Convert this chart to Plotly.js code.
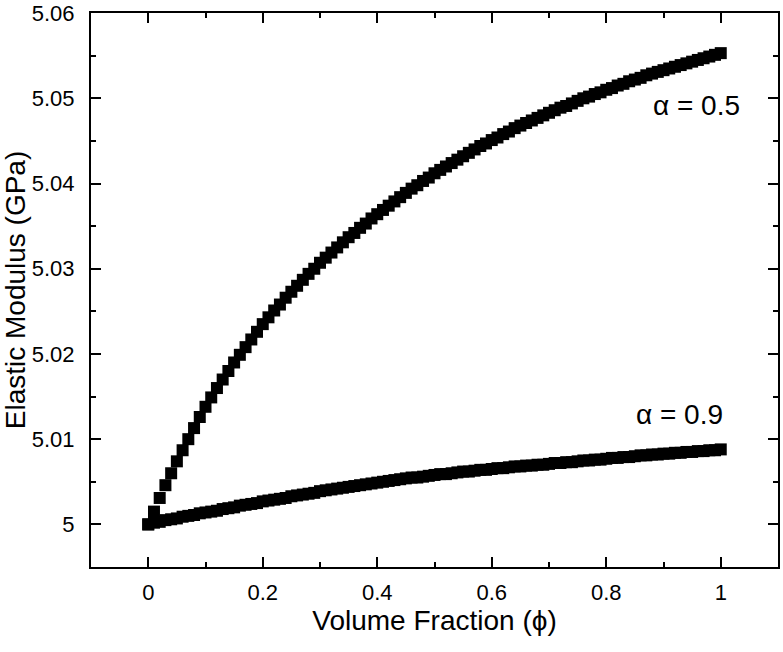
<!DOCTYPE html>
<html>
<head>
<meta charset="utf-8">
<script src="https://cdn.plot.ly/plotly-3.0.1.min.js"></script>
<style>html,body{margin:0;padding:0;background:#fff;}#chart{width:783px;height:652px;}</style>
</head>
<body>
<div id="chart"></div>
<script>
// Volume fraction (phi), 0 to 1 in steps of 0.01
var phi = [0.00,0.01,0.02,0.03,0.04,0.05,0.06,0.07,0.08,0.09,
  0.10,0.11,0.12,0.13,0.14,0.15,0.16,0.17,0.18,0.19,
  0.20,0.21,0.22,0.23,0.24,0.25,0.26,0.27,0.28,0.29,
  0.30,0.31,0.32,0.33,0.34,0.35,0.36,0.37,0.38,0.39,
  0.40,0.41,0.42,0.43,0.44,0.45,0.46,0.47,0.48,0.49,
  0.50,0.51,0.52,0.53,0.54,0.55,0.56,0.57,0.58,0.59,
  0.60,0.61,0.62,0.63,0.64,0.65,0.66,0.67,0.68,0.69,
  0.70,0.71,0.72,0.73,0.74,0.75,0.76,0.77,0.78,0.79,
  0.80,0.81,0.82,0.83,0.84,0.85,0.86,0.87,0.88,0.89,
  0.90,0.91,0.92,0.93,0.94,0.95,0.96,0.97,0.98,0.99,1.00];

// Elastic modulus (GPa), alpha = 0.5
var modulusA05 = [5.0000,5.0015,5.0031,5.0046,5.0060,5.0074,5.0087,5.0100,5.0113,5.0126,
  5.0138,5.0149,5.0160,5.0170,5.0180,5.0190,5.0199,5.0208,5.0217,5.0226,
  5.0235,5.0243,5.0251,5.0258,5.0266,5.0273,5.0280,5.0287,5.0294,5.0300,
  5.0307,5.0313,5.0319,5.0325,5.0331,5.0337,5.0342,5.0348,5.0353,5.0359,
  5.0364,5.0369,5.0374,5.0379,5.0384,5.0389,5.0394,5.0398,5.0403,5.0407,
  5.0412,5.0416,5.0420,5.0424,5.0428,5.0432,5.0436,5.0440,5.0444,5.0447,
  5.0451,5.0454,5.0458,5.0461,5.0465,5.0468,5.0471,5.0474,5.0477,5.0480,
  5.0483,5.0486,5.0489,5.0491,5.0494,5.0497,5.0500,5.0502,5.0505,5.0507,
  5.0510,5.0512,5.0515,5.0517,5.0520,5.0522,5.0524,5.0527,5.0529,5.0531,
  5.0533,5.0535,5.0537,5.0539,5.0541,5.0543,5.0545,5.0547,5.0549,5.0551,5.0553];

// Elastic modulus (GPa), alpha = 0.9
var modulusA09 = [5.0000,5.0002,5.0003,5.0005,5.0006,5.0007,5.0009,5.0010,5.0011,5.0013,
  5.0014,5.0015,5.0016,5.0018,5.0019,5.0020,5.0022,5.0023,5.0024,5.0025,
  5.0027,5.0028,5.0029,5.0030,5.0031,5.0033,5.0034,5.0035,5.0036,5.0037,
  5.0039,5.0040,5.0041,5.0042,5.0043,5.0044,5.0045,5.0046,5.0047,5.0048,
  5.0049,5.0050,5.0051,5.0052,5.0053,5.0054,5.0055,5.0055,5.0056,5.0057,
  5.0058,5.0059,5.0059,5.0060,5.0061,5.0062,5.0062,5.0063,5.0064,5.0064,
  5.0065,5.0066,5.0066,5.0067,5.0068,5.0068,5.0069,5.0069,5.0070,5.0070,
  5.0071,5.0072,5.0072,5.0073,5.0073,5.0074,5.0075,5.0075,5.0076,5.0076,
  5.0077,5.0078,5.0078,5.0079,5.0079,5.0080,5.0081,5.0081,5.0082,5.0082,
  5.0083,5.0083,5.0084,5.0084,5.0085,5.0085,5.0086,5.0086,5.0087,5.0087,5.0088];

var seriesLabels = ["α = 0.5", "α = 0.9"];
var xTitle = "Volume Fraction (ϕ)";
var yTitle = "Elastic Modulus (GPa)";

var FONT = "Liberation Sans, Arial, Helvetica, sans-serif";
var markerStyle = {symbol: "square", size: 12, color: "#000", line: {width: 0}};

var traces = [
  {x: phi, y: modulusA05, mode: "markers", type: "scatter", name: seriesLabels[0], marker: markerStyle, cliponaxis: false},
  {x: phi, y: modulusA09, mode: "markers", type: "scatter", name: seriesLabels[1], marker: markerStyle, cliponaxis: false}
];

var axisCommon = {
  showline: true, linecolor: "#000", linewidth: 2, mirror: "allticks",
  ticks: "inside", ticklen: 10, tickwidth: 2, tickcolor: "#000",
  showgrid: false, zeroline: false, ticklabeloverflow: "allow",
  tickfont: {family: FONT, size: 22, color: "#000"}
};

var layout = {
  width: 783, height: 652,
  margin: {l: 91, r: 5, t: 13, b: 85},
  paper_bgcolor: "#fff", plot_bgcolor: "#fff",
  showlegend: false,
  font: {family: FONT, color: "#000"},
  xaxis: Object.assign({}, axisCommon, {
    range: [-0.1, 1.1], tick0: 0, dtick: 0.2,
    minor: {ticks: "inside", ticklen: 5, tickwidth: 2, tickcolor: "#000", dtick: 0.1, tick0: 0, showgrid: false},
    ticklabelstandoff: 5,
    title: {text: xTitle, font: {family: FONT, size: 28, color: "#000"}, standoff: 5}
  }),
  yaxis: Object.assign({}, axisCommon, {
    range: [4.995, 5.06001], tick0: 5, dtick: 0.01,
    minor: {ticks: "inside", ticklen: 5, tickwidth: 2, tickcolor: "#000", dtick: 0.005, tick0: 5, showgrid: false},
    ticklabelstandoff: 10,
    title: {text: yTitle, font: {family: FONT, size: 28, color: "#000"}, standoff: 6}
  }),
  annotations: [
    {x: 0.958, y: 5.0491, xref: "x", yref: "y", text: seriesLabels[0], showarrow: false,
     font: {family: FONT, size: 28, color: "#000"}},
    {x: 0.928, y: 5.0129, xref: "x", yref: "y", text: seriesLabels[1], showarrow: false,
     font: {family: FONT, size: 28, color: "#000"}}
  ]
};

Plotly.newPlot("chart", traces, layout, {displayModeBar: false, staticPlot: true});
</script>
</body>
</html>
